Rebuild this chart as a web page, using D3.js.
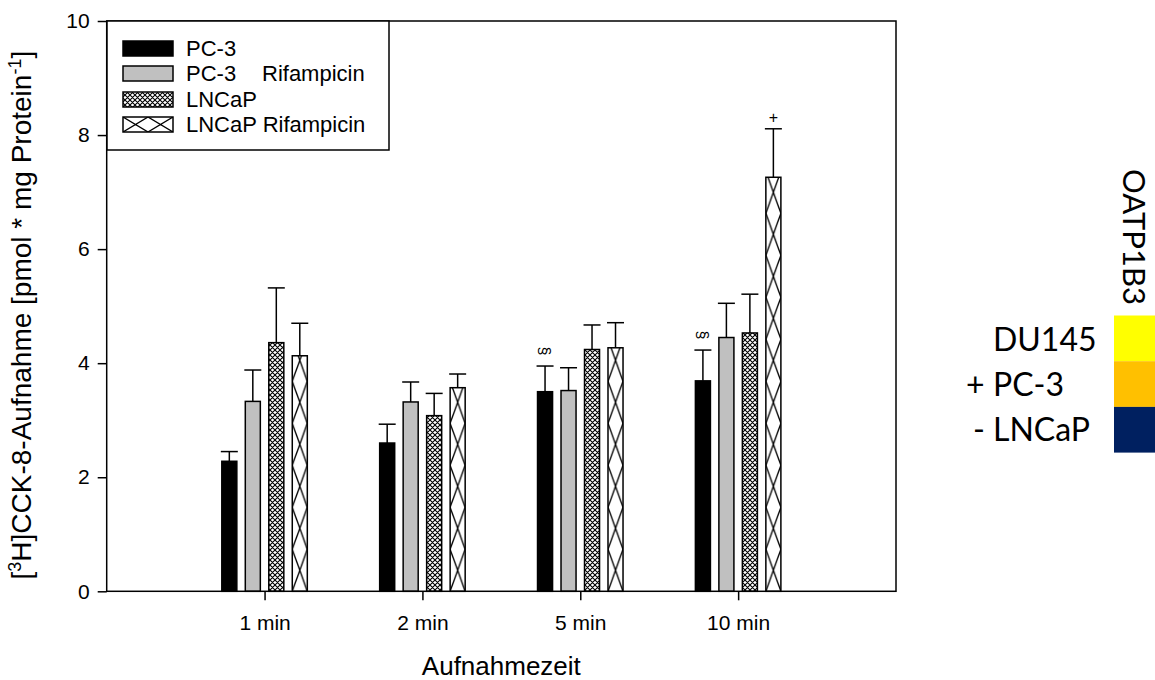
<!DOCTYPE html>
<html><head><meta charset="utf-8">
<script src="https://cdn.jsdelivr.net/npm/d3@7"></script>
<style>body{margin:0;background:#fff}svg{display:block}</style>
</head><body>
<svg id="c" width="1155" height="680"></svg>
<script>
const categories = ["1 min","2 min","5 min","10 min"];
const seriesNames = ["PC-3","PC-3    Rifampicin","LNCaP","LNCaP Rifampicin"];
const pc3      = [2.28, 2.60, 3.50, 3.69];
const pc3Err   = [2.45, 2.93, 3.95, 4.23];
const pc3Rif   = [3.33, 3.32, 3.52, 4.45];
const pc3RifErr= [3.88, 3.67, 3.92, 5.05];
const lncap    = [4.36, 3.08, 4.24, 4.53];
const lncapErr = [5.32, 3.47, 4.67, 5.21];
const lncapRif = [4.13, 3.57, 4.27, 7.26];
const lncapRifErr=[4.70, 3.81, 4.71, 8.11];
const yTicks = [0,2,4,6,8,10];
const annotations = [{cat:2, s:0, text:"§", rot:true},{cat:3, s:0, text:"§", rot:true},{cat:3, s:3, text:"+", rot:false}];
const sideLabels = ["DU145","PC-3","LNCaP"];
const sidePrefix = ["","+","-"];
const sideColors = ["#FFFF00","#FFC000","#002060"];

const values = [pc3, pc3Rif, lncap, lncapRif];
const errs = [pc3Err, pc3RifErr, lncapErr, lncapRifErr];

const svg = d3.select("#c");
const L=106.7, R=896, T=21, B=591.3;
const x = d3.scaleLinear().domain([0,5]).range([L,R]);
const y = d3.scaleLinear().domain([0,10]).range([B,T]);
const xb = d3.scaleBand().domain(d3.range(4)).range([-42.75,42.75]).paddingInner(0.36);
const bw = xb.bandwidth();
const FONT = "'Liberation Sans', Arial, sans-serif";

const defs = svg.append("defs");
const p1 = defs.append("pattern").attr("id","dense").attr("patternUnits","userSpaceOnUse").attr("width",5).attr("height",5);
p1.append("rect").attr("width",5).attr("height",5).attr("fill","#fff");
p1.append("path").attr("d","M0,0L5,5M5,0L0,5M-1,4L1,6M4,-1L6,1M-1,1L1,-1M4,6L6,4").attr("stroke","#000").attr("stroke-width",1.1);

function xPattern(id, px, py, w, h){
  const p = defs.append("pattern").attr("id",id).attr("patternUnits","userSpaceOnUse")
    .attr("x",px).attr("y",py).attr("width",w).attr("height",h);
  p.append("rect").attr("width",w).attr("height",h).attr("fill","#fff");
  p.append("path").attr("d",`M0,0L${w},${h}M${w},0L0,${h}`).attr("stroke","#000").attr("stroke-width",1.3);
}

const fills = ["#000","#c0c0c0","url(#dense)",null];

const g = svg.append("g");
categories.forEach((c,ci)=>{
  const cx = x(ci+1);
  values.forEach((vals,si)=>{
    const bx = cx + xb(si);
    const v = vals[ci], e = errs[si][ci];
    g.append("line").attr("x1",bx+bw/2).attr("x2",bx+bw/2).attr("y1",y(v)).attr("y2",y(e)).attr("stroke","#000").attr("stroke-width",1.5);
    g.append("line").attr("x1",bx+bw/2-8.5).attr("x2",bx+bw/2+8.5).attr("y1",y(e)).attr("y2",y(e)).attr("stroke","#000").attr("stroke-width",1.5);
    let fill = fills[si];
    if(fill===null){ const id="xp"+ci; xPattern(id,bx,B,bw,42); fill=`url(#${id})`; }
    g.append("rect").attr("x",bx).attr("y",y(v)).attr("width",bw).attr("height",y(0)-y(v))
      .attr("fill",fill).attr("stroke","#000").attr("stroke-width",1.5);
  });
});

annotations.forEach(a=>{
  const bx = x(a.cat+1)+xb(a.s)+bw/2;
  const yy = y(errs[a.s][a.cat]);
  const t = svg.append("text").attr("font-family",FONT).attr("font-size",16).attr("text-anchor","middle").text(a.text);
  if(a.rot) t.attr("transform",`translate(${bx},${yy-15}) rotate(90)`).attr("dy","0.35em");
  else t.attr("x",bx).attr("y",yy-6);
});

svg.append("rect").attr("x",L).attr("y",T).attr("width",R-L).attr("height",B-T).attr("fill","none").attr("stroke","#000").attr("stroke-width",1.5);

const ya = svg.append("g").attr("transform",`translate(${L},0)`).call(d3.axisLeft(y).tickValues(yTicks).tickSize(9).tickPadding(8));
ya.select(".domain").remove();
ya.selectAll("line").attr("stroke-width",1.5);
ya.selectAll("text").attr("font-family",FONT).attr("font-size",21).attr("fill","#000");
const xa = svg.append("g").attr("transform",`translate(0,${B})`).call(d3.axisBottom(x).tickValues([1,2,3,4]).tickFormat(d=>categories[d-1]).tickSize(9).tickPadding(15));
xa.select(".domain").remove();
xa.selectAll("line").attr("stroke-width",1.5);
xa.selectAll("text").attr("font-family",FONT).attr("font-size",21).attr("fill","#000");

svg.append("text").attr("x",(L+R)/2).attr("y",675).attr("text-anchor","middle").attr("font-family",FONT).attr("font-size",26).text("Aufnahmezeit");
const yl = svg.append("text").attr("transform",`translate(31,${(T+B)/2+9}) rotate(-90)`).attr("text-anchor","middle").attr("font-family",FONT).attr("font-size",28);
yl.append("tspan").text("[");
yl.append("tspan").attr("baseline-shift","super").attr("font-size",18).text("3");
yl.append("tspan").text("H]CCK-8-Aufnahme [pmol * mg Protein");
yl.append("tspan").attr("baseline-shift","super").attr("font-size",18).text("-1");
yl.append("tspan").text("]");

const lg = svg.append("g");
lg.append("rect").attr("x",107).attr("y",21).attr("width",282).attr("height",129).attr("fill","#fff").attr("stroke","#000").attr("stroke-width",1.5);
const rows = [41,66,92,117];
xPattern("legx",123,117,25,15);
const legFills = ["#000","#c0c0c0","url(#dense)","url(#legx)"];
seriesNames.forEach((n,i)=>{
  lg.append("rect").attr("x",123).attr("y",rows[i]).attr("width",50).attr("height",15).attr("fill",legFills[i]).attr("stroke","#000").attr("stroke-width",1.5);
  const t = lg.append("text").attr("x",186).attr("y",rows[i]+15).attr("font-family",FONT).attr("font-size",22);
  if(i===1){ t.text("PC-3"); lg.append("text").attr("x",262).attr("y",rows[i]+15).attr("font-family",FONT).attr("font-size",22).text("Rifampicin"); }
  else t.text(n);
});

const SF = "Lato, 'Open Sans', sans-serif";
sideColors.forEach((c,i)=>{
  svg.append("rect").attr("x",1114).attr("y",315.5+i*45.7).attr("width",41).attr("height",45.7).attr("fill",c);
  svg.append("text").attr("x",993).attr("y",351+i*45).attr("font-family",SF).attr("font-size",32).text(sideLabels[i]);
  if(sidePrefix[i]) svg.append("text").attr("x",i===1?966:973).attr("y",351+i*45).attr("font-family",SF).attr("font-size",32).text(sidePrefix[i]);
});
svg.append("text").attr("transform","translate(1123,237) rotate(90)").attr("text-anchor","middle").attr("font-family",SF).attr("font-size",31).text("OATP1B3");
</script>
</body></html>
